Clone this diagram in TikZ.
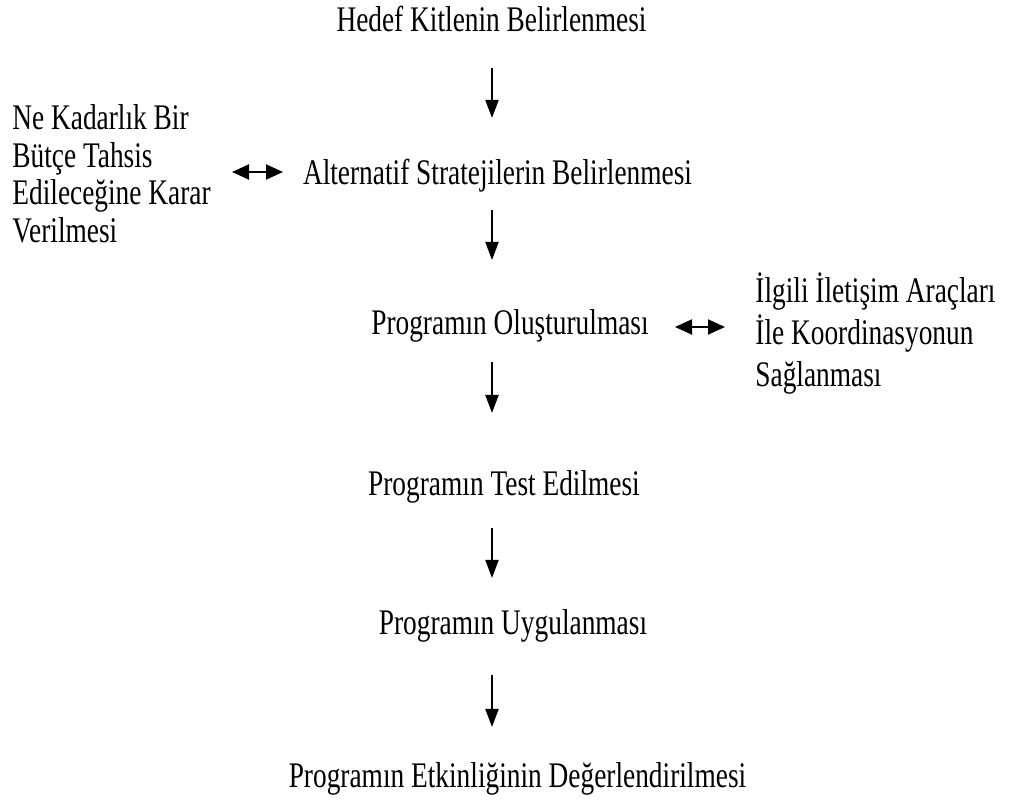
\documentclass[tikz,border=0pt]{standalone}
\usepackage{fontspec}
\setmainfont{Liberation Serif}[FakeStretch=0.76]
\usetikzlibrary{arrows.meta,positioning}
\tikzset{
  stage/.style={inner sep=0pt, font=\fontsize{18}{18}\selectfont, anchor=base},
  side/.style={inner sep=0pt, align=left, anchor=base west},
  arr/.style={-{Triangle[length=9pt,width=6.5pt]}, line width=1pt},
  darr/.style={{Triangle[length=8.5pt,width=7.5pt]}-{Triangle[length=8.5pt,width=7.5pt]}, line width=1pt},
}
\begin{document}
\begin{tikzpicture}[x=0.5pt,y=-0.5pt]
  \useasboundingbox (0,0) rectangle (1009,802);

  % main steps
  \node[stage] (hedef) at (491.5,32) {Hedef Kitlenin Belirlenmesi};
  \node[stage] (alt) at (497.5,185) {Alternatif Stratejilerin Belirlenmesi};
  \node[stage] (olus) at (510,335) {Programın Oluşturulması};
  \node[stage] (test) at (504,496) {Programın Test Edilmesi};
  \node[stage] (uyg) at (513,635) {Programın Uygulanması};
  \node[stage] (etk) at (517.5,788) {Programın Etkinliğinin Değerlendirilmesi};

  % side notes (base = last line)
  \node[side, font=\fontsize{18}{18.75}\selectfont] (butce) at (12,242.5)
    {Ne Kadarlık Bir\\Bütçe Tahsis\\Edileceğine Karar\\Verilmesi};
  \node[side, font=\fontsize{18}{21}\selectfont] (koord) at (755,387)
    {İlgili İletişim Araçları\\İle Koordinasyonun\\Sağlanması};

  % arrow ends
  \coordinate (a1t) at (492,68);  \coordinate (a1b) at (492,118);
  \coordinate (a2t) at (492,210); \coordinate (a2b) at (492,260);
  \coordinate (a3t) at (492,362); \coordinate (a3b) at (492,413);
  \coordinate (a4t) at (492,528); \coordinate (a4b) at (492,578);
  \coordinate (a5t) at (492,675); \coordinate (a5b) at (492,727);
  \coordinate (l1) at (232,172);  \coordinate (l2) at (283,172);
  \coordinate (r1) at (675,327);  \coordinate (r2) at (725,327);

  \draw[arr] (a1t) -- (a1b);
  \draw[arr] (a2t) -- (a2b);
  \draw[arr] (a3t) -- (a3b);
  \draw[arr] (a4t) -- (a4b);
  \draw[arr] (a5t) -- (a5b);
  \draw[darr] (l1) -- (l2);
  \draw[darr] (r1) -- (r2);
\end{tikzpicture}
\end{document}
